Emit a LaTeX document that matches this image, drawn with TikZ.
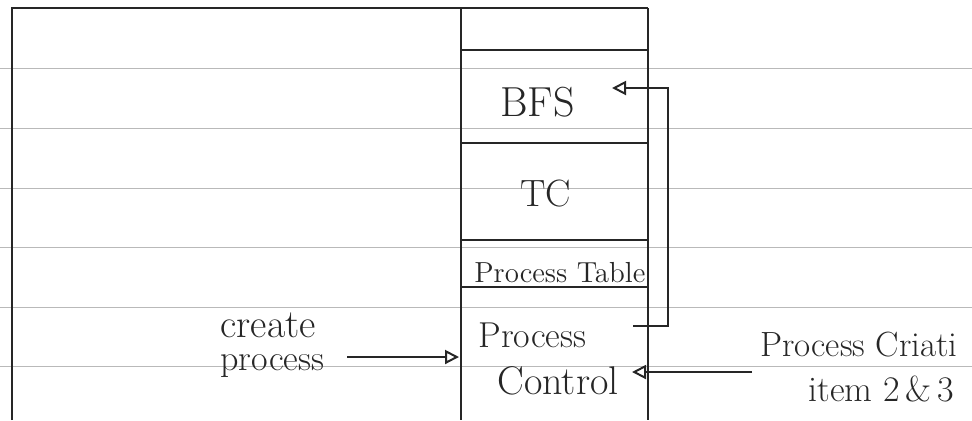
\documentclass[tikz,border=0pt]{standalone}
\usepackage{tikz}
\usetikzlibrary{arrows.meta}
\tikzset{
    rule/.style={gray!55, line width=0.5pt},
    ink/.style={black!85, line width=1pt},
    tip/.style={ink, -{Triangle[open, length=7pt, width=7pt]}},
    lbl/.style={anchor=base west, inner sep=0pt, text=black!85, font=\fontsize{17}{17}\selectfont},
}

\begin{document}
\begin{tikzpicture}[x=0.5pt, y=-0.5pt]
    \useasboundingbox (0,0) rectangle (972,420);
    % ruled paper
    \foreach \y in {68,128,188,247,307,366}
        \draw[rule] (0,\y) -- (972,\y);
    % frame and memory stack
    \draw[ink] (12,420) -- (12,8) -- (648,8);
    \draw[ink] (461,8) -- (461,420);
    \draw[ink] (648,8) -- (648,420);
    \foreach \y in {50,143,240,287}
        \draw[ink] (461,\y) -- (648,\y);
    % cell labels
    \node[lbl, font=\fontsize{21}{21}\selectfont] (bfs) at (500,116) {BFS};
    \node[lbl, font=\fontsize{19}{19}\selectfont] (tc) at (520,206) {TC};
    \node[lbl, font=\fontsize{14.5}{14.5}\selectfont] (ptable) at (474,282) {Process Table};
    \node[lbl, font=\fontsize{18}{18}\selectfont] (proc) at (478,347) {Process};
    \node[lbl, font=\fontsize{20}{20}\selectfont] (ctl) at (497,394) {Control};
    % outside labels
    \node[lbl, font=\fontsize{20}{20}\selectfont] (create) at (220,337) {create};
    \node[lbl, font=\fontsize{18}{18}\selectfont] (cproc) at (220,370) {process};
    \node[lbl, font=\fontsize{17.5}{17.5}\selectfont] (crea) at (760,356) {Process Criati};
    \node[lbl, font=\fontsize{18}{18}\selectfont] (item) at (808,401) {item 2\,\&\,3};
    % connectors
    \coordinate (cpstart) at (347,357);
    \coordinate (cpend) at (459,357);
    \draw[tip] (cpstart) -- (cpend);
    \coordinate (fbstart) at (633,326);
    \coordinate (fbend) at (612,88);
    \draw[tip] (fbstart) -- (668,326) |- (fbend);
    \coordinate (itstart) at (752,372);
    \coordinate (itend) at (632,372);
    \draw[tip] (itstart) -- (itend);
\end{tikzpicture}
\end{document}
